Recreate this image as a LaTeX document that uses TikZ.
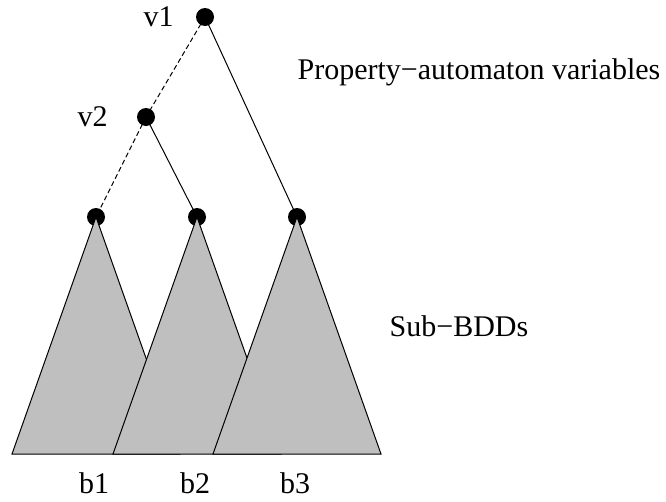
\documentclass[tikz,border=0pt]{standalone}
\usepackage{fontspec}
\setmainfont{Liberation Serif}
\usetikzlibrary{positioning,calc}

\begin{document}
\begin{tikzpicture}[
        x=1pt, y=-1pt,
        font=\fontsize{30}{36}\selectfont,
        var/.style={circle, fill=black, inner sep=0pt, minimum size=18pt},
        edge/.style={line width=1pt},
        lo/.style={edge, dash pattern=on 5pt off 3pt},
        subbdd/.style={draw, line width=1pt, fill=black!25, line join=miter}
      ]
      \useasboundingbox (0,0) rectangle (666,501);

      % --- variable nodes ---
      \node[var] (v1) at (205,17) {};
      \node[var] (v2) at (146,117) {};
      \node[var] (t1) at (96,217) {};
      \node[var] (t2) at (197,217) {};
      \node[var] (t3) at (297,217) {};

      \node[left=22pt of v1, inner sep=0pt] (lv1) {v1};
      \node[left=29pt of v2, inner sep=0pt] (lv2) {v2};

      % --- edges (dashed = low child) ---
      \draw[lo] (v1.center) -- (v2.center);
      \draw[edge] (v1.center) -- (t3.center);
      \draw[lo] (v2.center) -- (t1.center);
      \draw[edge] (v2.center) -- (t2.center);

      % --- sub-BDD triangles under the leaves ---
      \foreach \i in {1,2,3}{
        \draw[subbdd] (t\i.center) -- ++(-84,237) -- ++(168,0) -- cycle;
        \node[inner sep=0pt] (b\i) at ($(t\i.center)+(-2,266)$) {b\i};
      }

      % --- captions ---
      \node (prop) at (479,72) {Property−automaton variables};
      \node (subs) at (459,326) {Sub−BDDs};

    \end{tikzpicture}
\end{document}
